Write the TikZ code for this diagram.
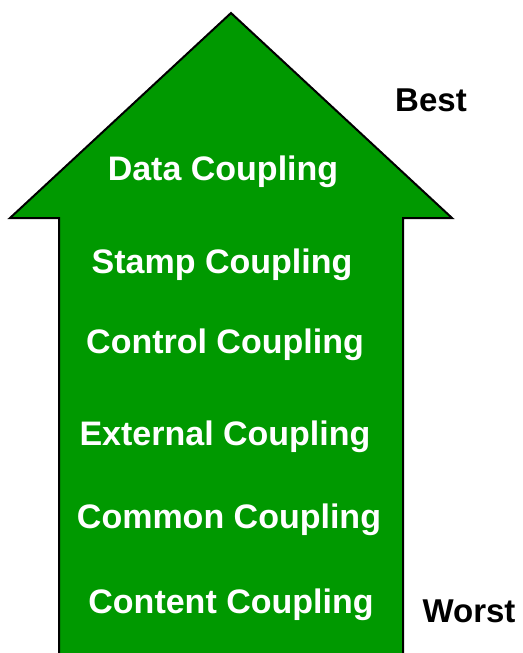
\documentclass[tikz,border=0pt]{standalone}
\usepackage{fontspec}
\setmainfont{Liberation Sans}
\begin{document}
\begin{tikzpicture}[x=1pt,y=-1pt]
\definecolor{arrowgreen}{HTML}{009900}
\tikzstyle{lvl}=[anchor=base,text=white,font=\fontsize{34}{40}\selectfont\bfseries]
\tikzstyle{tag}=[anchor=base,text=black,font=\fontsize{33}{40}\selectfont\bfseries]
\useasboundingbox (0,0) rectangle (522,653);
% the big arrow, shaft runs off the bottom edge
\filldraw[fill=arrowgreen,draw=black,line width=2pt,line join=miter]
  (59,660) -- (59,218) -- (10,218) -- (231,13) -- (452,218) -- (403,218) -- (403,660);
\node (1) at (223,180) [lvl]{Data Coupling};
\node (2) at (222,273) [lvl]{Stamp Coupling};
\node (3) at (225,353) [lvl]{Control Coupling};
\node (4) at (225,445) [lvl]{External Coupling};
\node (5) at (229,528) [lvl]{Common Coupling};
\node (6) at (231,613) [lvl]{Content Coupling};
\node (7) at (431,111) [tag]{Best};
\node (8) at (469,622) [tag]{Worst};
\end{tikzpicture}
\end{document}
